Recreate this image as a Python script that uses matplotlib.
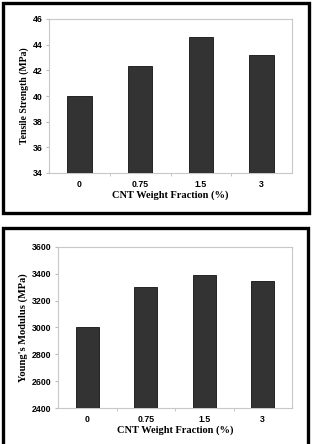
import matplotlib
matplotlib.use("Agg")
import matplotlib.pyplot as plt
from matplotlib.patches import Rectangle

categories = ["0", "0.75", "1.5", "3"]
tensile = [40.0, 42.3, 44.6, 43.2]
youngs = [3000, 3300, 3390, 3350]
tensile_ticks = [34, 36, 38, 40, 42, 44, 46]
youngs_ticks = [2400, 2600, 2800, 3000, 3200, 3400, 3600]

W, H = 313, 444
fig = plt.figure(figsize=(W / 100, H / 100), dpi=100)
fig.patch.set_facecolor("white")

def px_axes(left, top, right, bottom):
    return fig.add_axes([left / W, (H - bottom) / H, (right - left) / W, (bottom - top) / H])

def style(ax, vals, ticks, ylabel, ylabel_size):
    x = list(range(len(categories)))
    ax.bar(x, vals, width=0.4, color="#333333", edgecolor="#111111", linewidth=0.6, zorder=3)
    ax.set_xlim(-0.5, len(categories) - 0.5)
    ax.set_ylim(ticks[0], ticks[-1])
    ax.set_yticks(ticks)
    ax.set_yticklabels([str(t) for t in ticks], fontsize=6.3, fontweight="bold", family="Liberation Sans")
    ax.set_xticks(x)
    ax.set_xticklabels(categories, fontsize=6.3, fontweight="bold", family="Liberation Sans")
    ax.set_xticks([i + 0.5 for i in range(len(categories) - 1)], minor=True)
    ax.tick_params(axis="x", which="major", length=0, pad=5)
    ax.tick_params(axis="x", which="minor", length=2.5, color="#bbbbbb")
    ax.tick_params(axis="y", length=2.5, color="#bbbbbb", pad=2)
    for s in ax.spines.values():
        s.set_color("#c8c8c8")
        s.set_linewidth(0.8)
    ax.set_xlabel("CNT Weight Fraction (%)", fontsize=7.5, fontweight="bold", family="Liberation Serif", labelpad=1)
    ax.set_ylabel(ylabel, fontsize=ylabel_size, fontweight="bold", family="Liberation Serif", labelpad=3)

ax1 = px_axes(49, 19, 292, 173)
style(ax1, tensile, tensile_ticks, "Tensile Strength (MPa)", 7)
ax2 = px_axes(58, 247, 292, 408)
style(ax2, youngs, youngs_ticks, "Young's Modulus (MPa)", 7.6)

def px_rect(left, top, right, bottom, lw):
    r = Rectangle((left / W, (H - bottom) / H), (right - left) / W, (bottom - top) / H,
                  transform=fig.transFigure, fill=False, edgecolor="black", linewidth=lw)
    fig.patches.append(r)

px_rect(3, 3, 309, 213, 2.4)
px_rect(3, 228, 308, 460, 2.4)

fig.savefig("out.png", dpi=100)
